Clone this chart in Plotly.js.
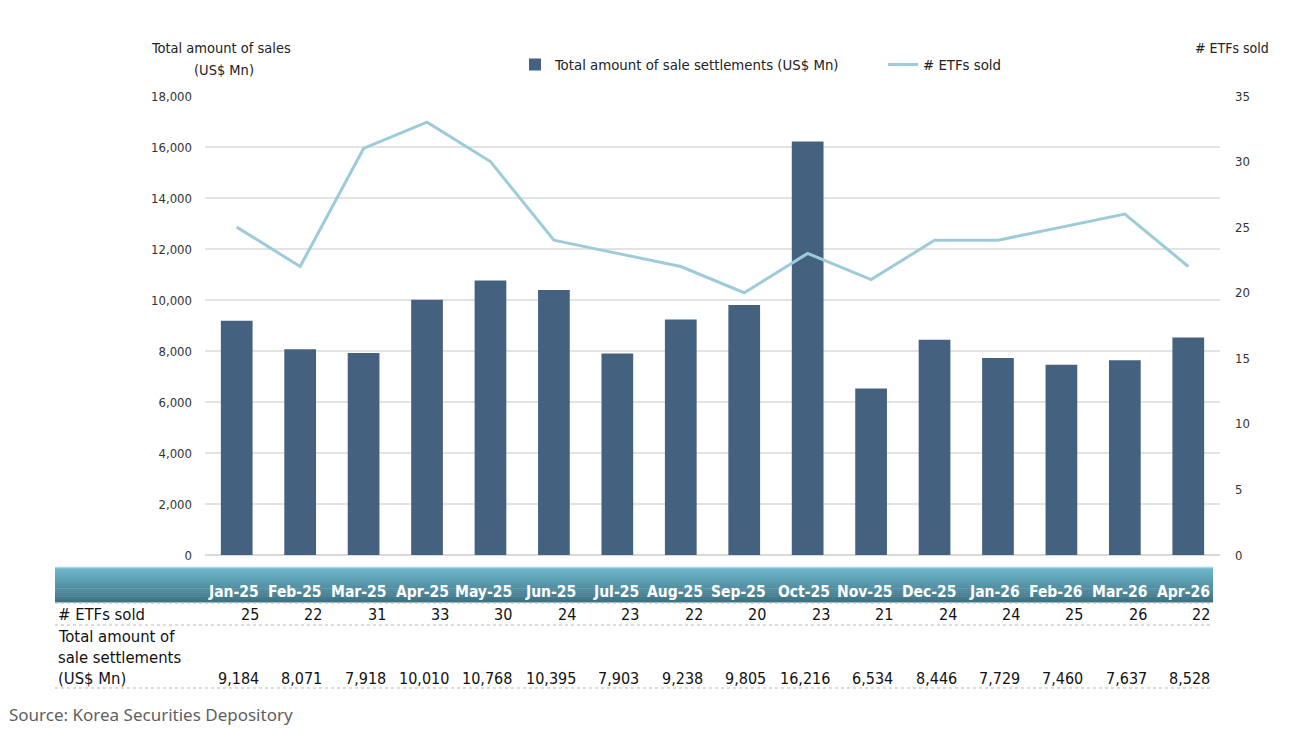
<!DOCTYPE html>
<html>
<head>
<meta charset="utf-8">
<script src="https://cdn.plot.ly/plotly-3.0.1.min.js"></script>
<style>
  html, body { margin: 0; padding: 0; background: #ffffff; }
  #chart { width: 1298px; height: 730px; }
</style>
</head>
<body>
<div id="chart"></div>
<script>
// Monthly ETF sale settlements, Korea Securities Depository
const months = ['Jan-25', 'Feb-25', 'Mar-25', 'Apr-25', 'May-25', 'Jun-25', 'Jul-25', 'Aug-25',
                'Sep-25', 'Oct-25', 'Nov-25', 'Dec-25', 'Jan-26', 'Feb-26', 'Mar-26', 'Apr-26'];
const etfsSold = [25, 22, 31, 33, 30, 24, 23, 22, 20, 23, 21, 24, 24, 25, 26, 22];
const saleAmounts = [9184, 8071, 7918, 10010, 10768, 10395, 7903, 9238,
                     9805, 16216, 6534, 8446, 7729, 7460, 7637, 8528];

const barName = 'Total amount of sale settlements (US$ Mn)';
const lineName = '# ETFs sold';

// plot frame in pixels, used to place the surrounding table and titles
const W = 1298, Hgt = 730;
const M = { l: 205, r: 78, t: 96, b: 175 };
const PW = W - M.l - M.r, PH = Hgt - M.t - M.b;
const px = x => (x - M.l) / PW;
const py = y => (Hgt - M.b - y) / PH;

const FONT = 'DejaVu Sans Condensed, DejaVu Sans, sans-serif';
const fmt = v => v.toLocaleString('en-US');

const traces = [
  {
    type: 'bar', name: barName, x: months, y: saleAmounts,
    marker: { color: '#44627f' }, yaxis: 'y', legend: 'legend'
  },
  {
    type: 'scatter', mode: 'lines', name: lineName, x: months, y: etfsSold,
    line: { color: '#9dcbd9', width: 3 }, yaxis: 'y2', legend: 'legend2'
  }
];

const shapes = [];
const annotations = [];

// header band with a vertical teal gradient
const bandTop = 567, bandBot = 602, bandL = 55, bandR = 1213;
const c0 = [112, 184, 207], c1 = [62, 115, 132];
const steps = 18;
for (let i = 0; i < steps; i++) {
  const t = i / (steps - 1);
  const c = c0.map((v, k) => Math.round(v + (c1[k] - v) * t));
  const y0 = bandTop + (bandBot - bandTop) * i / steps;
  const y1 = bandTop + (bandBot - bandTop) * (i + 1) / steps;
  shapes.push({
    type: 'rect', xref: 'paper', yref: 'paper',
    x0: px(bandL), x1: px(bandR), y0: py(y1) - 0.001, y1: py(y0),
    fillcolor: `rgb(${c[0]},${c[1]},${c[2]})`, line: { width: 0 }, layer: 'above'
  });
}
// light top edge of the band
shapes.push({
  type: 'line', xref: 'paper', yref: 'paper',
  x0: px(bandL), x1: px(bandR), y0: py(bandTop + 0.5), y1: py(bandTop + 0.5),
  line: { color: '#a9d6e3', width: 1.5 }
});

// dotted row separators
[603, 625, 688].forEach(y => {
  shapes.push({
    type: 'line', xref: 'paper', yref: 'paper',
    x0: px(bandL), x1: px(bandR), y0: py(y), y1: py(y),
    line: { color: '#b8b8b8', width: 1, dash: 'dot' }
  });
});

// table cells aligned to the category axis
months.forEach((m, i) => {
  annotations.push({
    xref: 'x', yref: 'paper', x: m, y: py(592), xanchor: 'right', yanchor: 'middle',
    xshift: 24, text: '<b>' + m + '</b>', showarrow: false,
    font: { family: FONT, size: 15.5, color: '#ffffff' }
  });
  annotations.push({
    xref: 'x', yref: 'paper', x: m, y: py(614), xanchor: 'right', yanchor: 'middle',
    xshift: 24, text: String(etfsSold[i]), showarrow: false,
    font: { family: FONT, size: 16, color: '#111111' }
  });
  annotations.push({
    xref: 'x', yref: 'paper', x: m, y: py(678), xanchor: 'right', yanchor: 'middle',
    xshift: 24, text: fmt(saleAmounts[i]), showarrow: false,
    font: { family: FONT, size: 16, color: '#111111' }
  });
});

// row headers
[['# ETFs sold', 614], ['Total amount of', 636], ['sale settlements', 657], ['(US$ Mn)', 678]]
  .forEach(([t, y]) => {
    annotations.push({
      xref: 'paper', yref: 'paper', x: px(56), y: py(y), xanchor: 'left', yanchor: 'middle',
      text: t, showarrow: false, font: { family: FONT, size: 16.5, color: '#111111' }
    });
  });

// axis titles
annotations.push({
  xref: 'paper', yref: 'paper', x: px(149), y: py(48), xanchor: 'left', yanchor: 'middle',
  text: 'Total amount of sales', showarrow: false, font: { family: FONT, size: 14.5, color: '#222222' }
});
annotations.push({
  xref: 'paper', yref: 'paper', x: px(192), y: py(70), xanchor: 'left', yanchor: 'middle',
  text: '(US$ Mn)', showarrow: false, font: { family: FONT, size: 14.5, color: '#222222' }
});
annotations.push({
  xref: 'paper', yref: 'paper', x: px(1271), y: py(48), xanchor: 'right', yanchor: 'middle',
  text: '# ETFs sold', showarrow: false, font: { family: FONT, size: 14, color: '#222222' }
});

// source note
annotations.push({
  xref: 'paper', yref: 'paper', x: px(7), y: py(714), xanchor: 'left', yanchor: 'middle',
  text: 'Source: Korea Securities Depository', showarrow: false,
  font: { family: 'Noto Sans, Open Sans, sans-serif', size: 17, color: '#5f5f5f' }
});

const legendBase = {
  orientation: 'h', xanchor: 'left', yanchor: 'middle',
  font: { family: FONT, size: 14.8, color: '#222222' },
  itemwidth: 30, bgcolor: 'rgba(0,0,0,0)', borderwidth: 0
};

const layout = {
  width: W, height: Hgt,
  margin: M,
  paper_bgcolor: '#ffffff', plot_bgcolor: '#ffffff',
  font: { family: FONT, size: 13, color: '#333333' },
  bargap: 0.5,
  showlegend: true,
  legend: Object.assign({}, legendBase, { x: px(515), y: py(65) }),
  legend2: Object.assign({}, legendBase, { x: px(883), y: py(65) }),
  xaxis: {
    type: 'category', range: [-0.5, 15.5], showticklabels: false,
    showgrid: false, zeroline: false, showline: false, ticks: ''
  },
  yaxis: {
    range: [0, 18000], dtick: 2000, tickformat: ',d',
    showgrid: true, gridcolor: '#e3e3e3', gridwidth: 1.5,
    zeroline: true, zerolinecolor: '#d9d9d9', zerolinewidth: 1.5,
    ticks: '', ticklabelstandoff: 12,
    tickfont: { family: FONT, size: 13, color: '#333333' }
  },
  yaxis2: {
    overlaying: 'y', side: 'right', range: [0, 35], dtick: 5,
    showgrid: false, zeroline: false, ticks: '', ticklabelstandoff: 14,
    tickfont: { family: FONT, size: 13, color: '#333333' }
  },
  shapes: shapes,
  annotations: annotations
};

Plotly.newPlot('chart', traces, layout, { displayModeBar: false, staticPlot: true });
</script>
</body>
</html>
